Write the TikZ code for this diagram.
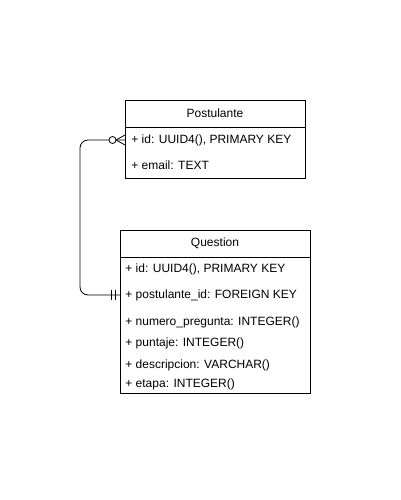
\documentclass[tikz,border=0pt]{standalone}
\usepackage{fontspec}
\setmainfont{Liberation Sans}
\usetikzlibrary{positioning,calc}
\newcommand{\RowFont}{\fontsize{12}{14}\selectfont}

\begin{document}
\begin{tikzpicture}[x=1pt,y=-1pt,line width=0.8pt,
        tbl/.style={draw,rectangle,anchor=north west,inner sep=0pt},
        field/.style={anchor=west,inner sep=0pt,font=\RowFont},
        title/.style={inner sep=0pt,font=\RowFont}]
    \useasboundingbox (0,0) rectangle (400,500);

    % Postulante table
    \node[tbl,minimum width=180pt,minimum height=78pt] (post) at (125,100) {};
    \draw (125,127) -- (305,127);
    \node[title] (posttitle) at (215,113.5) {Postulante};
    \node[field] (pid) at (131,140) {+ id: UUID4(), PRIMARY KEY};
    \node[field] (pmail) at (131,165) {+ email: TEXT};

    % Question table
    \node[tbl,minimum width=190pt,minimum height=163pt] (quest) at (120,230) {};
    \draw (120,257) -- (310,257);
    \node[title] (qtitle) at (215,243.5) {Question};
    \node[field] (qid) at (125,269) {+ id: UUID4(), PRIMARY KEY};
    \node[field] (qpid) at (125,295) {+ postulante\_id: FOREIGN KEY};
    \node[field] (qnum) at (125,322) {+ numero\_pregunta: INTEGER()};
    \node[field] (qpts) at (125,343.5) {+ puntaje: INTEGER()};
    \node[field] (qdesc) at (125,365) {+ descripcion: VARCHAR()};
    \node[field] (qstage) at (125,384.5) {+ etapa: INTEGER()};

    % relation: zero or many -- exactly one
    \coordinate (manyend) at (pid -| post.west);
    \coordinate (oneend) at (qpid -| quest.west);
    \draw[rounded corners=8pt] (manyend) -- ++(-45,0) |- (oneend);

    % crow's foot with circle
    \draw (manyend) ++(-9,0) -- ++(9,-5);
    \draw (manyend) ++(-9,0) -- ++(9,5);
    \draw[fill=white] ($(manyend)+(-12.5,0)$) circle (3.5pt);

    % double bar
    \draw (oneend) ++(-9,-5) -- ++(0,10);
    \draw (oneend) ++(-5,-5) -- ++(0,10);
\end{tikzpicture}
\end{document}
